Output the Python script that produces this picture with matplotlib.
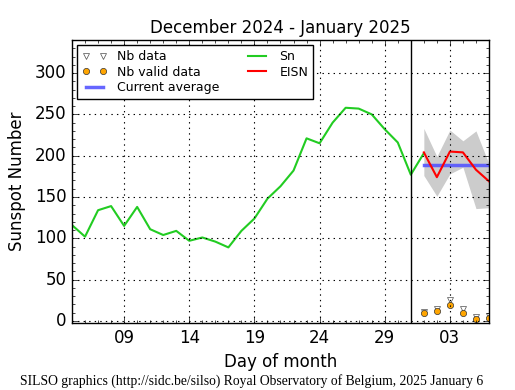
import matplotlib
matplotlib.use("Agg")
import matplotlib.pyplot as plt
from matplotlib.ticker import MultipleLocator, FixedLocator

plt.style.use("classic")

# Data (x = day counted from 1 December; January d -> 31 + d)
sn_days = list(range(5, 33))
sn_values = [116, 102, 134, 139, 115, 138, 111, 104, 109, 97, 101, 96, 89, 109,
             124, 148, 163, 182, 221, 215, 240, 258, 257, 250, 232, 216, 177, 203]

eisn_days = [32, 33, 34, 35, 36, 37]
eisn_values = [204, 174, 205, 204, 183, 169]
eisn_upper = [233, 199, 231, 218, 230, 190]
eisn_lower = [176, 151, 178, 186, 136, 137]

nb_data = [11, 15, 25, 14, 5, 6]
nb_valid = [9, 12, 19, 9, 2, 4]
current_average = 189

tick_pos = [9, 14, 19, 24, 29, 34]
tick_labels = ["09", "14", "19", "24", "29", "03"]

fig = plt.figure(figsize=(5.15, 3.9), dpi=100, facecolor="white")
ax = fig.add_axes([0.1398, 0.1718, 0.8097, 0.7256])

ax.fill_between(eisn_days, eisn_lower, eisn_upper, color="0.8", lw=0)
ax.plot(eisn_days, nb_data, linestyle="none", marker="v", ms=4,
        mfc="white", mec="0.3", label="Nb data")
ax.plot(eisn_days, nb_valid, linestyle="none", marker="o", ms=4.5,
        mfc="orange", mec="0.2", label="Nb valid data")
ax.plot([eisn_days[0], eisn_days[-1]], [current_average] * 2, color="#5555ff",
        lw=2.5, alpha=0.9, label="Current average")
ax.plot(sn_days, sn_values, color="#22cc22", lw=1.5, label="Sn")
ax.plot(eisn_days, eisn_values, color="red", lw=1.5, label="EISN")
ax.axvline(31, color="black", lw=1)

ax.set_xlim(5, 37)
ax.set_ylim(-2.5, 340)
ax.xaxis.set_major_locator(FixedLocator(tick_pos))
ax.set_xticklabels(tick_labels)
ax.xaxis.set_minor_locator(MultipleLocator(1))
ax.yaxis.set_major_locator(MultipleLocator(50))
ax.yaxis.set_minor_locator(MultipleLocator(10))
ax.tick_params(labelsize=12)
ax.grid(True, color="black", linestyle=":", lw=0.8)

ax.set_title("December 2024 - January 2025", fontsize=12)
ax.set_xlabel("Day of month", fontsize=12)
ax.set_ylabel("Sunspot Number", fontsize=12, labelpad=6)

ax.legend(loc="upper left", ncol=2, fontsize=9, numpoints=2,
          handlelength=2, columnspacing=2.0, borderaxespad=0.4,
          labelspacing=0.2)

fig.text(0.039, 0.012, "SILSO graphics (http://sidc.be/silso) Royal Observatory of Belgium, 2025 January 6",
         fontsize=9.8, family="Liberation Serif")

fig.savefig("out.png", dpi=100, facecolor="white")
